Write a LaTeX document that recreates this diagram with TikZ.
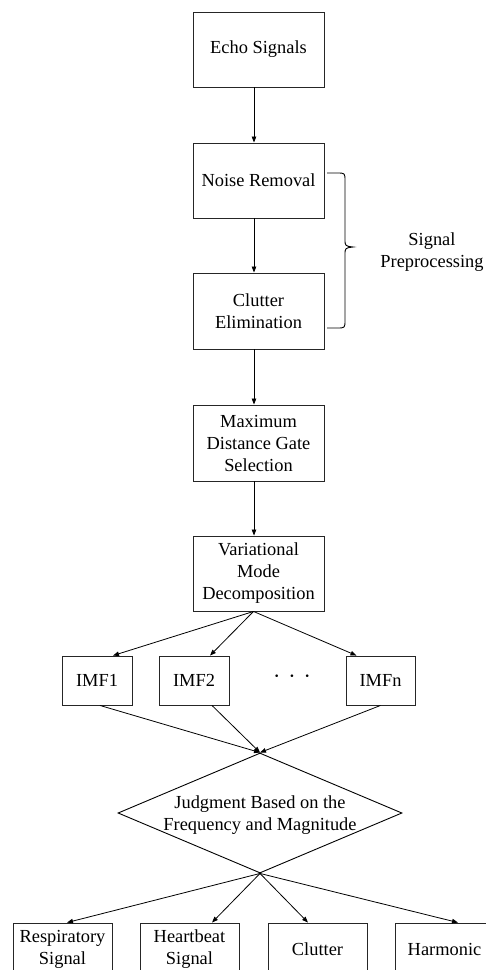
\documentclass[tikz,border=0pt]{standalone}
\usepackage{fontspec}
\setmainfont{Liberation Serif}
\usetikzlibrary{arrows.meta,shapes.geometric}
\begin{document}
\begin{tikzpicture}[x=1pt,y=-1pt,
  box/.style={draw=black!85,line width=0.9pt,inner sep=0pt,align=center,
    font=\fontsize{18.4}{22}\selectfont},
  txt/.style={inner sep=0pt,align=center,font=\fontsize{18.4}{22}\selectfont},
  arr/.style={draw=black,line width=0.8pt,-{Triangle[length=6pt,width=4.5pt]}}]
\useasboundingbox (0,0) rectangle (486,970);
\clip (0,0) rectangle (486,970);
\fill[white] (0,0) rectangle (486,970);
% main column
\node[box,minimum width=131pt,minimum height=75pt] (echo) at (258.5,49.5) {Echo Signals};
\node[box,minimum width=131pt,minimum height=75pt] (noise) at (258.5,180.5) {Noise Removal};
\node[box,minimum width=131pt,minimum height=76pt] (clel) at (258.5,311) {Clutter\\Elimination};
\node[box,minimum width=131pt,minimum height=76pt] (maxd) at (258.5,443) {Maximum\\Distance Gate\\Selection};
\node[box,minimum width=131pt,minimum height=75pt] (vmd) at (258.5,573.5) {Variational\\Mode\\Decomposition};
% IMFs
\node[box,minimum width=70pt,minimum height=49pt] (imf1) at (97,680.5) {IMF1};
\node[box,minimum width=70pt,minimum height=49pt] (imf2) at (194,680.5) {IMF2};
\node[box,minimum width=69pt,minimum height=49pt] (imfn) at (380.5,680.5) {IMFn};
\node[txt,font=\fontsize{22}{22}\selectfont] (dots) at (292,679) {\textperiodcentered\hspace{8pt}\textperiodcentered\hspace{8pt}\textperiodcentered};
% judgment
\node[draw=black,line width=0.9pt,diamond,minimum width=284pt,minimum height=120pt,inner sep=0pt] (judge) at (260,813) {};
\node[txt] (judgetxt) at (260,815) {Judgment Based on the\\Frequency and Magnitude};
% outputs
\node[box,minimum width=99pt,minimum height=52pt] (resp) at (62.5,949) {Respiratory\\Signal};
\node[box,minimum width=99pt,minimum height=52pt] (heart) at (189.5,949) {Heartbeat\\Signal};
\node[box,minimum width=99pt,minimum height=52pt] (clut) at (317.5,949) {Clutter};
\node[box,minimum width=99pt,minimum height=52pt] (harm) at (444.5,949) {Harmonic};
% preprocessing label and brace
\node[txt] (pre) at (432,252) {Signal\\Preprocessing};
\draw[line width=0.9pt] (327,173) -- (337,173) .. controls (345,173) .. (345,181) -- (345,239)
  .. controls (345,246) .. (353,247) .. controls (345,248) .. (345,255) -- (345,320)
  .. controls (345,328) .. (337,328) -- (327,328);
% column arrows
\draw[arr] ([xshift=-4.5pt]echo.south) -- ([xshift=-4.5pt]noise.north);
\draw[arr] ([xshift=-4.5pt]noise.south) -- ([xshift=-4.5pt]clel.north);
\draw[arr] ([xshift=-4.5pt]clel.south) -- ([xshift=-4.5pt]maxd.north);
\draw[arr] ([xshift=-4.5pt]maxd.south) -- ([xshift=-4.5pt]vmd.north);
% VMD to IMFs
\draw[arr] ([xshift=-5pt]vmd.south) -- ([xshift=16pt]imf1.north);
\draw[arr] ([xshift=-5pt]vmd.south) -- ([xshift=16pt]imf2.north);
\draw[arr] ([xshift=-5pt]vmd.south) -- ([xshift=-24pt]imfn.north);
% IMFs to judgment
\draw[arr] ([xshift=3pt]imf1.south) -- (judge.north);
\draw[arr] ([xshift=18pt]imf2.south) -- (judge.north);
\draw[arr] (imfn.south) -- (judge.north);
% judgment to outputs
\draw[arr] (judge.south) -- ([xshift=4.5pt]resp.north);
\draw[arr] (judge.south) -- ([xshift=22.5pt]heart.north);
\draw[arr] (judge.south) -- ([xshift=-9.5pt]clut.north);
\draw[arr] (judge.south) -- ([xshift=13.5pt]harm.north);
\end{tikzpicture}
\end{document}
